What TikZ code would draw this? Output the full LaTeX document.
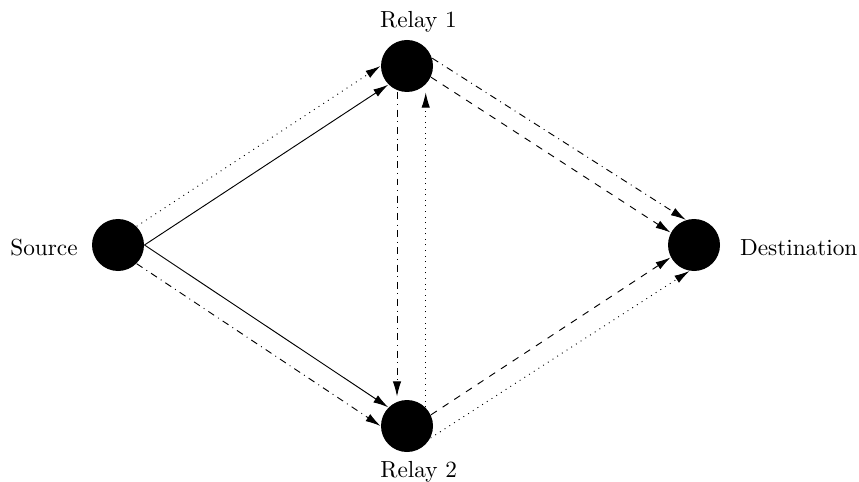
\documentclass[tikz,border=0pt]{standalone}
\usetikzlibrary{arrows.meta,calc}
\begin{document}
\begin{tikzpicture}[x=0.43pt,y=-0.43pt,
  dot/.style={circle,fill=black,inner sep=0pt,minimum size=22.36pt},
  lbl/.style={inner sep=0pt,anchor=base},
  arr/.style={-{Latex[length=6.5pt,width=3.6pt]},line width=0.4pt}]
\useasboundingbox (0,0) rectangle (859,482);
\node[dot] (S) at (118,245) {};
\node[dot] (R1) at (407,66) {};
\node[dot] (R2) at (407,426) {};
\node[dot] (D) at (694,245) {};
\node[lbl] (lS) at (44,255) {Source};
\node[lbl] (lD) at (798.7,255) {Destination};
\node[lbl] (lR1) at (418.5,28) {Relay 1};
\node[lbl] (lR2) at (418.7,477) {Relay 2};
\draw[arr,dotted] (S.north east) -- (R1.west);
\draw[arr] (S.east) -- (R1.south west);
\draw[arr] (S.east) -- (R2.north west);
\draw[arr,dashdotted] (S.south east) -- (R2.west);
\draw[arr,dashdotted] ($(R1.south)+(-10,0)$) -- ($(R2.north)+(-10,-3)$);
\draw[arr,dotted] (R2.north east) -- (R2.north east |- R1.south);
\draw[arr,dashdotted] (R1.17) -- (D.108);
\draw[arr,dashed] (R1.-25) -- (D.152);
\draw[arr,dashed] (R2.25) -- (D.-152);
\draw[arr,dotted] (R2.-27) -- (D.-100);
\end{tikzpicture}
\end{document}
